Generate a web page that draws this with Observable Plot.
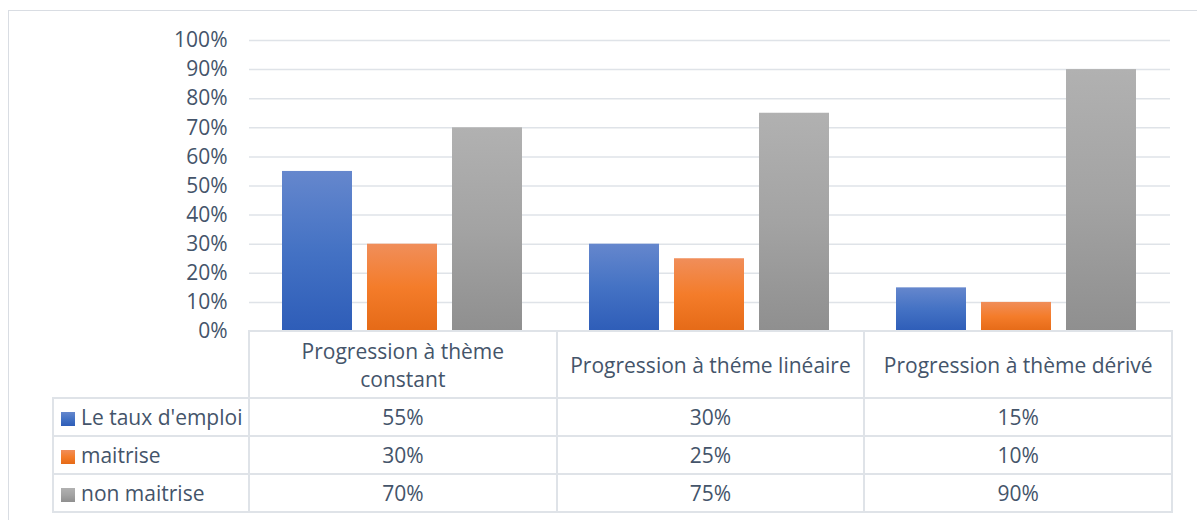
<!DOCTYPE html>
<html>
<head>
<meta charset="utf-8">
<script src="https://cdn.jsdelivr.net/npm/d3@7"></script>
<script src="https://cdn.jsdelivr.net/npm/@observablehq/plot@0.6"></script>
<style>
  body { margin: 0; background: #fff; font-family: "Open Sans", sans-serif; }
  #frame { position: absolute; left: 8px; top: 10px; width: 1200px; height: 520px; border: 1px solid #d9dde3; box-sizing: border-box; }
  #chart { position: absolute; left: 0; top: 0; }
  #table { position: absolute; left: 52px; top: 330px; border-collapse: collapse; table-layout: fixed; color: #44546a; font-size: 21px; }
  #table td { border: 2px solid #dfe3e8; padding: 0 9px; text-align: center; line-height: 28px; }
  #table tr.head td { height: 65px; }
  #table tr.row td { height: 36px; }
  #table td.blank { border-top: none; border-left: none; }
  #table td.key { text-align: left; padding-left: 7px; padding-right: 0; white-space: nowrap; }
  .swatch { display: inline-block; width: 14px; height: 14px; margin-right: 6px; vertical-align: -1px; }
</style>
</head>
<body>
<div id="frame"></div>
<div id="chart"></div>
<table id="table"></table>
<script>
// Categories (one group of bars and one table column each)
const categories = ["Progression à thème constant", "Progression à théme linéaire", "Progression à thème dérivé"];
// Series names, in legend order
const series = ["Le taux d'emploi", "maitrise", "non maitrise"];
// Series values per category
const tauxEmploi = [0.55, 0.30, 0.15];
const maitrise = [0.30, 0.25, 0.10];
const nonMaitrise = [0.70, 0.75, 0.90];
// Y axis ticks
const yTicks = [0, 0.1, 0.2, 0.3, 0.4, 0.5, 0.6, 0.7, 0.8, 0.9, 1];

const valuesBySeries = [tauxEmploi, maitrise, nonMaitrise];
const data = series.flatMap((s, i) =>
  categories.map((c, j) => ({category: c, series: s, value: valuesBySeries[i][j]}))
);

// Vertical gradients used for each series' bars and legend keys
const gradients = [
  {id: "g-blue", stops: ["#6587cd", "#4472c4", "#2e5db8"]},
  {id: "g-orange", stops: ["#f08e5a", "#f47c2a", "#e56a17"]},
  {id: "g-gray", stops: ["#b1b1b1", "#a3a3a3", "#8f8f8f"]}
];

const pct = d3.format(".0%");

const chart = Plot.plot({
  width: 1197,
  height: 350,
  marginLeft: 248,
  marginRight: 26,
  marginTop: 40,
  marginBottom: 19,
  style: {background: "transparent", fontFamily: "'Open Sans', sans-serif", fontSize: "21px", color: "#44546a", overflow: "visible"},
  fx: {domain: categories, padding: 0, axis: null, label: null},
  x: {domain: series, paddingInner: 0.175, paddingOuter: 0.39, axis: null},
  y: {domain: [0, 1], ticks: yTicks, tickFormat: pct, tickSize: 0, tickPadding: 22, label: null},
  color: {type: "ordinal", domain: series, range: gradients.map(g => `url(#${g.id})`)},
  marks: [
    Plot.gridY(yTicks.filter(t => t > 0), {stroke: "#dfe3e8", strokeOpacity: 1, strokeWidth: 1.5}),
    Plot.barY(data, {fx: "category", x: "series", y: "value", fill: "series"})
  ]
});

const defs = d3.select(chart).append("defs");
for (const g of gradients) {
  const lg = defs.append("linearGradient").attr("id", g.id).attr("x1", 0).attr("y1", 0).attr("x2", 0).attr("y2", 1);
  g.stops.forEach((c, i) => lg.append("stop").attr("offset", i / (g.stops.length - 1)).attr("stop-color", c));
}
document.getElementById("chart").appendChild(chart);

// Data table under the plot, with columns aligned to the category bands
const table = d3.select("#table");
const colgroup = table.append("colgroup");
colgroup.append("col").style("width", "196px");
categories.forEach(() => colgroup.append("col").style("width", "307.67px"));
table.style("width", (196 + 3 * 307.67) + "px");

const head = table.append("tr").attr("class", "head");
head.append("td").attr("class", "blank");
categories.forEach(c => head.append("td").text(c));

series.forEach((s, i) => {
  const tr = table.append("tr").attr("class", "row");
  const key = tr.append("td").attr("class", "key");
  const g = gradients[i];
  key.append("span").attr("class", "swatch")
    .style("background", `linear-gradient(${g.stops.join(",")})`);
  key.append("span").text(s);
  valuesBySeries[i].forEach(v => tr.append("td").text(pct(v)));
});
</script>
</body>
</html>
